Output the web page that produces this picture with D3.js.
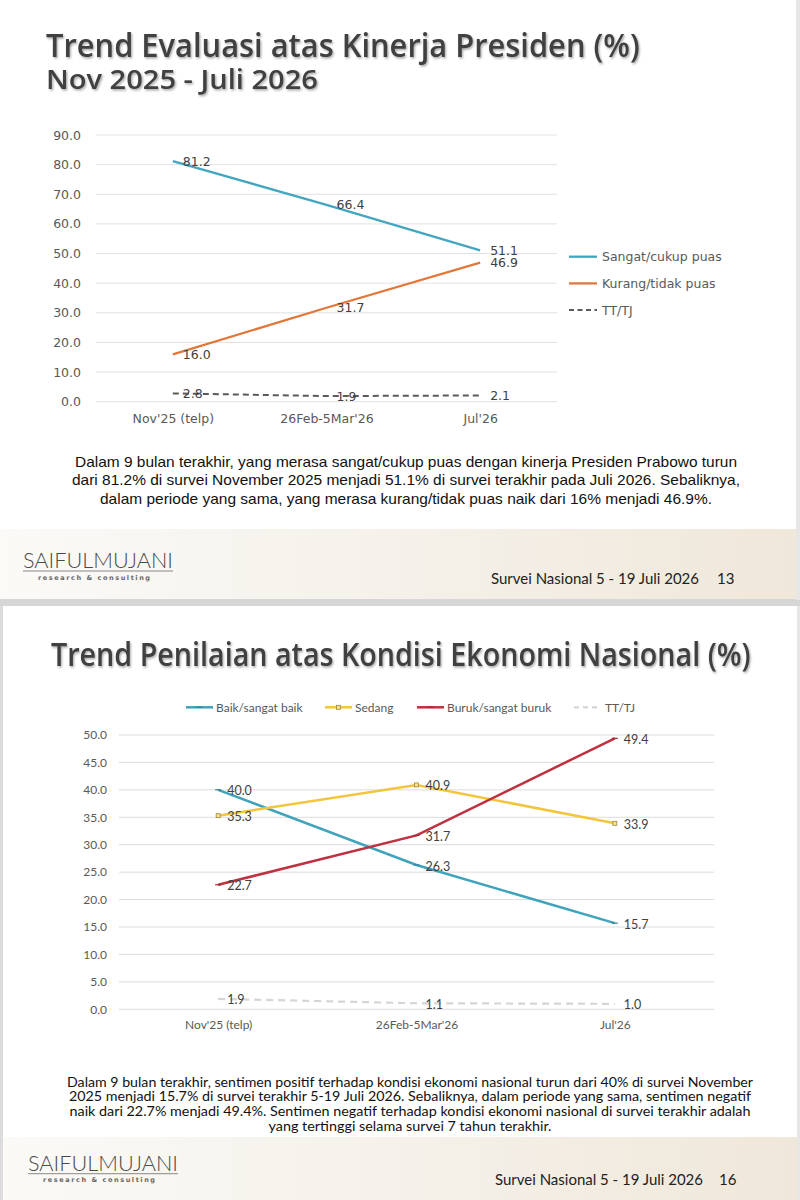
<!DOCTYPE html>
<html><head><meta charset="utf-8">
<script src="https://cdn.jsdelivr.net/npm/d3@7"></script>
<style>html,body{margin:0;padding:0;background:#fff;}svg{display:block;}</style>
</head><body>
<svg id="c" width="800" height="1200"></svg>
<script>
// ---------- DATA ----------
const categories = ["Nov'25 (telp)", "26Feb-5Mar'26", "Jul'26"];
// Chart 1: Evaluasi kinerja presiden
const presSangat = [81.2, 66.4, 51.1];
const presKurang = [16.0, 31.7, 46.9];
const presTT = [2.8, 1.9, 2.1];
const presTicks = [0, 10, 20, 30, 40, 50, 60, 70, 80, 90];
const presSeriesNames = ["Sangat/cukup puas", "Kurang/tidak puas", "TT/TJ"];
// Chart 2: Kondisi ekonomi nasional
const ekoBaik = [40.0, 26.3, 15.7];
const ekoSedang = [35.3, 40.9, 33.9];
const ekoBuruk = [22.7, 31.7, 49.4];
const ekoTT = [1.9, 1.1, 1.0];
const ekoTicks = [0, 5, 10, 15, 20, 25, 30, 35, 40, 45, 50];
const ekoSeriesNames = ["Baik/sangat baik", "Sedang", "Buruk/sangat buruk", "TT/TJ"];
// Texts
const title1 = "Trend Evaluasi atas Kinerja Presiden (%)";
const subtitle1 = "Nov 2025 - Juli 2026";
const note1 = [
  "Dalam 9 bulan terakhir, yang merasa sangat/cukup puas dengan kinerja Presiden Prabowo turun",
  "dari 81.2% di survei November 2025 menjadi 51.1% di survei terakhir pada Juli 2026. Sebaliknya,",
  "dalam periode yang sama, yang merasa kurang/tidak puas naik dari 16% menjadi 46.9%."
];
const title2 = "Trend Penilaian atas Kondisi Ekonomi Nasional (%)";
const note2 = [
  "Dalam 9 bulan terakhir, sentimen positif terhadap kondisi ekonomi nasional turun dari 40% di survei November",
  "2025 menjadi 15.7% di survei terakhir 5-19 Juli 2026. Sebaliknya, dalam periode yang sama, sentimen negatif",
  "naik dari 22.7% menjadi 49.4%. Sentimen negatif terhadap kondisi ekonomi nasional di survei terakhir adalah",
  "yang tertinggi selama survei 7 tahun terakhir."
];
const footerText = "Survei Nasional 5 - 19 Juli 2026";
const pageNumbers = ["13", "16"];

// ---------- DRAW ----------
const svg = d3.select("#c");
const defs = svg.append("defs");
const sh = defs.append("filter").attr("id", "shadow").attr("x", "-2%").attr("y", "-20%").attr("width", "104%").attr("height", "150%");
sh.append("feDropShadow").attr("dx", 1.2).attr("dy", 1.5).attr("stdDeviation", 1).attr("flood-color", "#000").attr("flood-opacity", 0.35);
const gr = defs.append("linearGradient").attr("id", "foot").attr("x1", "0").attr("x2", "1").attr("y1", "0").attr("y2", "0");
gr.append("stop").attr("offset", "0").attr("stop-color", "#fbfaf7");
gr.append("stop").attr("offset", "0.5").attr("stop-color", "#f5f1ea");
gr.append("stop").attr("offset", "1").attr("stop-color", "#efe7d9");

// backgrounds
svg.append("rect").attr("x", 0).attr("y", 0).attr("width", 800).attr("height", 1200).attr("fill", "#fff");
svg.append("rect").attr("x", 0).attr("y", 529).attr("width", 800).attr("height", 71).attr("fill", "url(#foot)");
svg.append("rect").attr("x", 0).attr("y", 1137).attr("width", 800).attr("height", 63).attr("fill", "url(#foot)");
svg.append("rect").attr("x", 0).attr("y", 599).attr("width", 800).attr("height", 7).attr("fill", "#d6d6d6");
svg.append("rect").attr("x", 796).attr("y", 0).attr("width", 4).attr("height", 600).attr("fill", "#e6e6e6");
svg.append("rect").attr("x", 0).attr("y", 606).attr("width", 3).attr("height", 594).attr("fill", "#dcdcdc");
svg.append("rect").attr("x", 797).attr("y", 606).attr("width", 3).attr("height", 594).attr("fill", "#e6e6e6");

// titles: scaled horizontally to the reference's (condensed) widths
function fitTitle(txt, x, y, size, width) {
  const t = svg.append("text").attr("x", 0).attr("y", 0).text(txt)
    .attr("font-family", "'Open Sans', 'DejaVu Sans', sans-serif").attr("font-weight", 600)
    .attr("font-size", size).attr("fill", "#404040").attr("filter", "url(#shadow)");
  const w = t.node().getComputedTextLength();
  t.attr("transform", `translate(${x},${y}) scale(${width / w},1)`);
}
fitTitle(title1, 46, 57, 33, 594);
fitTitle(subtitle1, 46, 89, 27, 272);
fitTitle(title2, 51, 666, 33, 700);

// ---------- CHART 1 ----------
(function () {
  const f = "'DejaVu Sans', Verdana, sans-serif";
  const x = d3.scalePoint().domain(categories).range([96, 557]).padding(0.5);
  const y = d3.scaleLinear().domain([0, 90]).range([401.7, 135]);
  const g = svg.append("g");
  g.append("g").selectAll("line").data(presTicks).join("line")
    .attr("x1", 96).attr("x2", 557).attr("y1", d => y(d)).attr("y2", d => y(d))
    .attr("stroke", "#e2e2e2").attr("stroke-width", 1);
  const ya = g.append("g").attr("transform", "translate(96,0)")
    .call(d3.axisLeft(y).tickValues(presTicks).tickFormat(d3.format(".1f")).tickSize(0).tickPadding(15));
  ya.select(".domain").remove();
  ya.selectAll("text").attr("font-family", f).attr("font-size", 12.5).attr("fill", "#595959");
  const xa = g.append("g").attr("transform", "translate(0,410)")
    .call(d3.axisBottom(x).tickSize(0).tickPadding(4));
  xa.select(".domain").remove();
  xa.selectAll("text").attr("font-family", f).attr("font-size", 12.5).attr("fill", "#595959");

  const series = [
    { name: presSeriesNames[0], vals: presSangat, color: "#43a6c0", dash: null, w: 2.3 },
    { name: presSeriesNames[1], vals: presKurang, color: "#e2773a", dash: null, w: 2.3 },
    { name: presSeriesNames[2], vals: presTT, color: "#5a5a5a", dash: "6,4", w: 2 }
  ];
  const line = d3.line().x((d, i) => x(categories[i])).y(d => y(d));
  series.forEach(s => {
    g.append("path").attr("d", line(s.vals)).attr("fill", "none")
      .attr("stroke", s.color).attr("stroke-width", s.w).attr("stroke-dasharray", s.dash);
  });
  series.forEach(s => {
    g.append("g").selectAll("text").data(s.vals).join("text")
      .attr("x", (d, i) => x(categories[i]) + 10).attr("y", d => y(d)).attr("dy", "0.36em")
      .text(d => d3.format(".1f")(d))
      .attr("font-family", f).attr("font-size", 12.5).attr("fill", "#404040");
  });
  const lg = g.append("g");
  series.forEach((s, i) => {
    const yy = 256.7 + i * 26.7;
    lg.append("line").attr("x1", 569).attr("x2", 597).attr("y1", yy).attr("y2", yy)
      .attr("stroke", s.color).attr("stroke-width", s.w).attr("stroke-dasharray", s.dash ? "5,3.5" : null);
    lg.append("text").attr("x", 602).attr("y", yy).attr("dy", "0.36em").text(s.name)
      .attr("font-family", f).attr("font-size", 12.5).attr("fill", "#595959");
  });
})();

// ---------- CHART 2 ----------
(function () {
  const f = "Lato, 'Open Sans', sans-serif";
  const x = d3.scalePoint().domain(categories).range([119, 714]).padding(0.5);
  const y = d3.scaleLinear().domain([0, 50]).range([1009.3, 735]);
  const g = svg.append("g");
  g.append("g").selectAll("line").data(ekoTicks).join("line")
    .attr("x1", 119).attr("x2", 714).attr("y1", d => y(d)).attr("y2", d => y(d))
    .attr("stroke", "#dcdcdc").attr("stroke-width", 1);
  const ya = g.append("g").attr("transform", "translate(119,0)")
    .call(d3.axisLeft(y).tickValues(ekoTicks).tickFormat(d3.format(".1f")).tickSize(0).tickPadding(12));
  ya.select(".domain").remove();
  ya.selectAll("text").attr("font-family", f).attr("font-size", 12).attr("fill", "#595959");
  const xa = g.append("g").attr("transform", "translate(0,1016)")
    .call(d3.axisBottom(x).tickSize(0).tickPadding(4));
  xa.select(".domain").remove();
  xa.selectAll("text").attr("font-family", f).attr("font-size", 12).attr("fill", "#595959");

  const series = [
    { name: ekoSeriesNames[0], vals: ekoBaik, color: "#3fa3bb", dash: null, w: 2.5, marker: "dash" },
    { name: ekoSeriesNames[1], vals: ekoSedang, color: "#f2c53d", dash: null, w: 2.5, marker: "square" },
    { name: ekoSeriesNames[2], vals: ekoBuruk, color: "#c0303f", dash: null, w: 2.5, marker: "dash" },
    { name: ekoSeriesNames[3], vals: ekoTT, color: "#d5d5d5", dash: "7,5", w: 2.2, marker: null }
  ];
  const line = d3.line().x((d, i) => x(categories[i])).y(d => y(d));
  [3, 0, 1, 2].forEach(k => {
    const s = series[k];
    g.append("path").attr("d", line(s.vals)).attr("fill", "none")
      .attr("stroke", s.color).attr("stroke-width", s.w).attr("stroke-dasharray", s.dash);
  });
  series.forEach(s => {
    if (s.marker === "square") {
      g.append("g").selectAll("rect").data(s.vals).join("rect")
        .attr("x", (d, i) => x(categories[i]) - 2).attr("y", d => y(d) - 2)
        .attr("width", 4).attr("height", 4).attr("fill", "#f6e08a").attr("stroke", "#9c8a3a").attr("stroke-width", 0.8);
    } else if (s.marker === "dash") {
      g.append("g").selectAll("line").data(s.vals).join("line")
        .attr("x1", (d, i) => x(categories[i]) - 3).attr("x2", (d, i) => x(categories[i]) + 3)
        .attr("y1", d => y(d)).attr("y2", d => y(d))
        .attr("stroke", d3.color(s.color).darker(0.6)).attr("stroke-width", 1.2);
    }
  });
  series.forEach(s => {
    g.append("g").selectAll("text").data(s.vals).join("text")
      .attr("x", (d, i) => x(categories[i]) + 9).attr("y", d => y(d) + 1).attr("dy", "0.36em")
      .text(d => d3.format(".1f")(d))
      .attr("font-family", f).attr("font-size", 12.5).attr("fill", "#404040");
  });
  const lx = [186, 325, 417, 574];
  const lg = g.append("g");
  series.forEach((s, i) => {
    const yy = 707.3;
    lg.append("line").attr("x1", lx[i]).attr("x2", lx[i] + 27).attr("y1", yy).attr("y2", yy)
      .attr("stroke", s.color).attr("stroke-width", s.w).attr("stroke-dasharray", s.dash ? "5,4" : null);
    if (s.marker === "square") {
      lg.append("rect").attr("x", lx[i] + 11.5).attr("y", yy - 2).attr("width", 4).attr("height", 4)
        .attr("fill", "#f6e08a").attr("stroke", "#9c8a3a").attr("stroke-width", 0.8);
    } else if (s.marker === "dash") {
      lg.append("line").attr("x1", lx[i] + 10.5).attr("x2", lx[i] + 16.5).attr("y1", yy).attr("y2", yy)
        .attr("stroke", d3.color(s.color).darker(0.6)).attr("stroke-width", 1.2);
    }
    lg.append("text").attr("x", lx[i] + (s.dash ? 31 : 30)).attr("y", yy).attr("dy", "0.36em").text(s.name)
      .attr("font-family", f).attr("font-size", 12).attr("fill", "#595959");
  });
})();

// ---------- NOTES ----------
const n1w = [662, 668, 612];
svg.append("g").selectAll("text").data(note1).join("text")
  .attr("x", 406).attr("y", (d, i) => 467 + i * 18.3).attr("text-anchor", "middle").text(d => d)
  .attr("font-family", "'Liberation Sans Narrow', 'Liberation Sans', Arial, sans-serif")
  .attr("font-size", 14.5).attr("fill", "#111")
  .attr("textLength", (d, i) => n1w[i]).attr("lengthAdjust", "spacingAndGlyphs");
const n2w = [686, 682, 681, 283];
svg.append("g").selectAll("text").data(note2).join("text")
  .attr("x", 410).attr("y", (d, i) => 1086.5 + i * 14.8).attr("text-anchor", "middle").text(d => d)
  .attr("font-family", "Lato, 'Open Sans', sans-serif")
  .attr("font-size", 13).attr("fill", "#111")
  .attr("textLength", (d, i) => n2w[i]).attr("lengthAdjust", "spacingAndGlyphs");

// ---------- FOOTERS ----------
[{ y: 568, lx: 23, fx: 491, px: 717, fy: 584, p: pageNumbers[0] },
 { y: 1170.7, lx: 28, fx: 495, px: 719, fy: 1185, p: pageNumbers[1] }].forEach(ft => {
  svg.append("text").attr("x", ft.lx).attr("y", ft.y).text("SAIFULMUJANI")
    .attr("font-family", "Lato, 'Open Sans', sans-serif").attr("font-weight", 300)
    .attr("font-size", 21).attr("fill", "#4a4a4a").attr("textLength", 150).attr("lengthAdjust", "spacingAndGlyphs");
  svg.append("rect").attr("x", ft.lx).attr("y", ft.y + 2.5).attr("width", 150).attr("height", 1).attr("fill", "#888");
  svg.append("text").attr("x", ft.lx + 15).attr("y", ft.y + 11.5).text("research & consulting")
    .attr("font-family", "'DejaVu Sans', sans-serif").attr("font-weight", 700)
    .attr("font-size", 6.5).attr("fill", "#666").attr("textLength", 112).attr("lengthAdjust", "spacing");
  svg.append("text").attr("x", ft.fx).attr("y", ft.fy).text(footerText)
    .attr("font-family", "Lato, 'Open Sans', sans-serif").attr("font-size", 15).attr("fill", "#222")
    .attr("textLength", 208).attr("lengthAdjust", "spacingAndGlyphs");
  svg.append("text").attr("x", ft.px).attr("y", ft.fy).text(ft.p)
    .attr("font-family", "Lato, 'Open Sans', sans-serif").attr("font-size", 15).attr("fill", "#222");
});
</script>
</body></html>
